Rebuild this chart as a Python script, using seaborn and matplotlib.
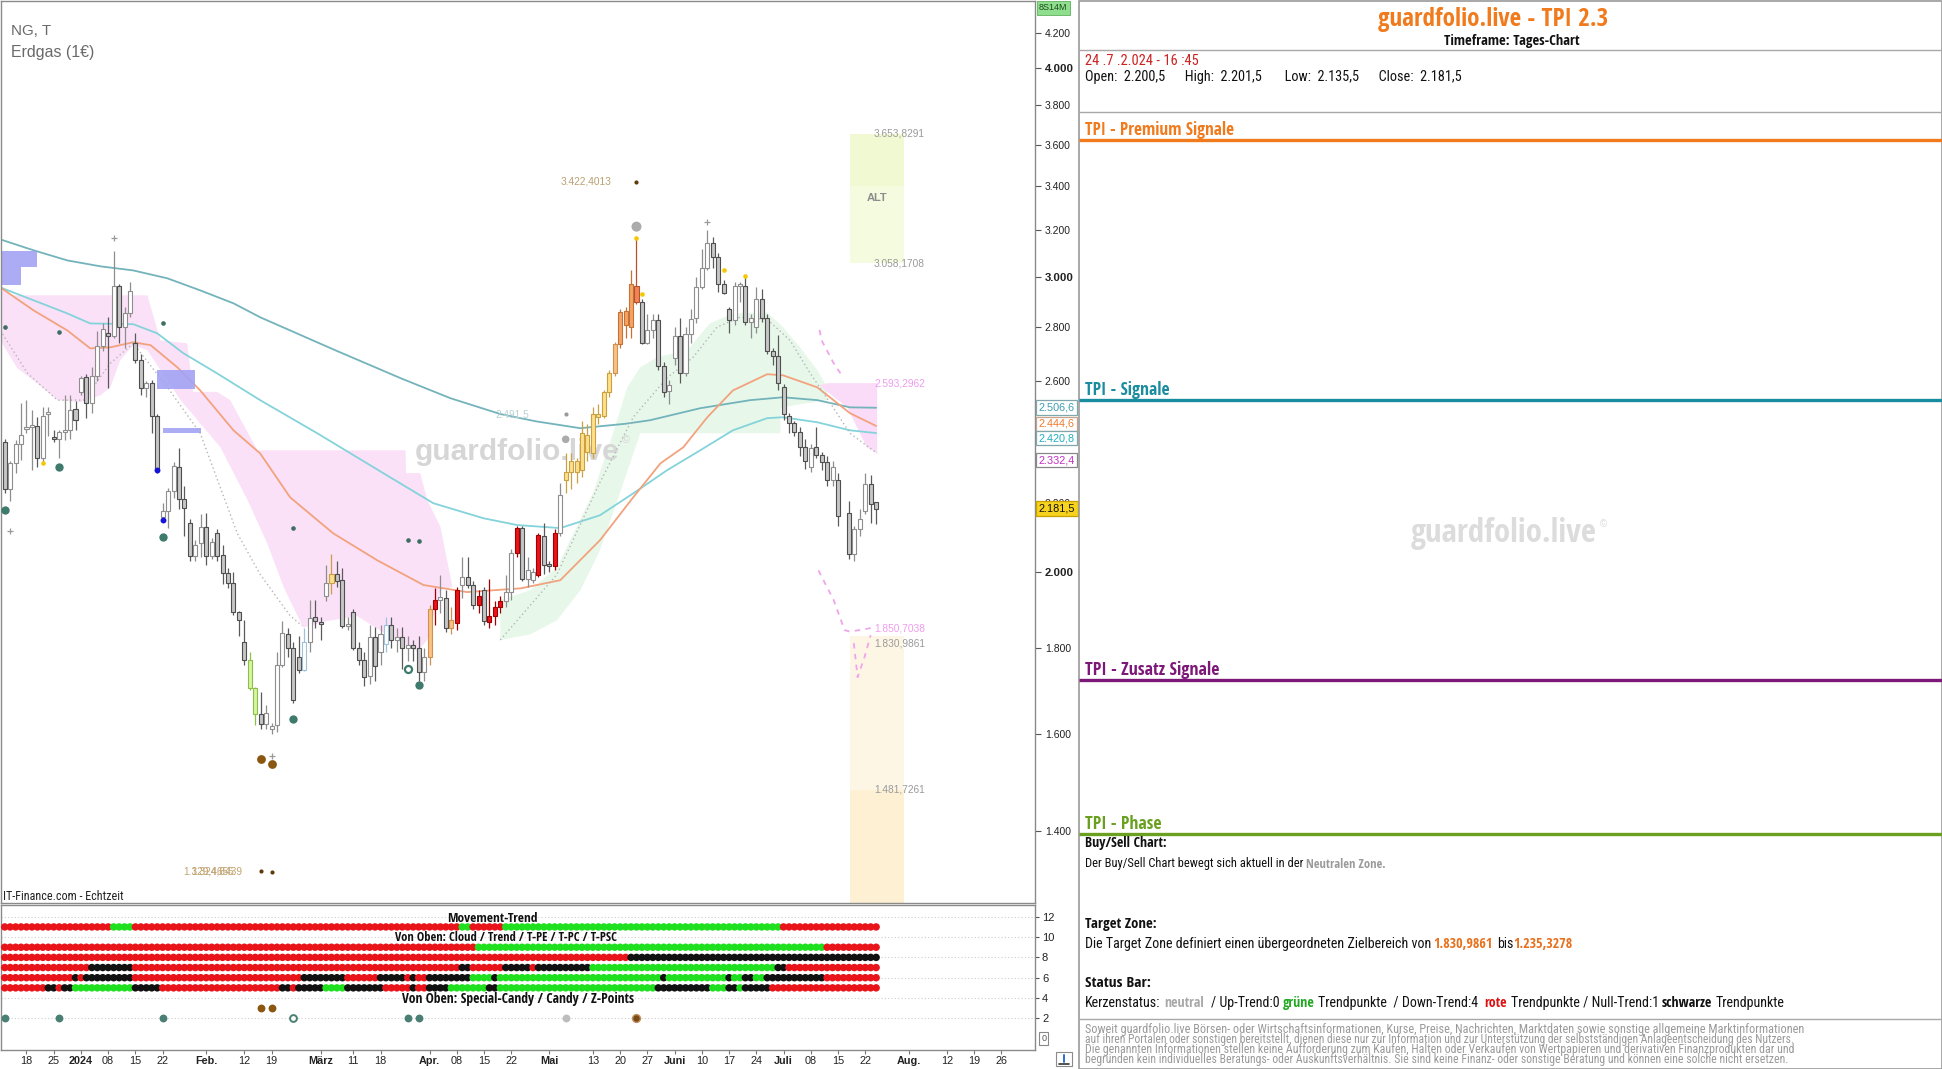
import numpy as np
import pandas as pd
import matplotlib
matplotlib.use("Agg")
import matplotlib.pyplot as plt
import seaborn as sns
from matplotlib.patches import Rectangle
from matplotlib import font_manager as fm
from matplotlib.ticker import FixedLocator, FixedFormatter, NullLocator
from matplotlib.transforms import blended_transform_factory, offset_copy

# ---------------------------------------------------------------- data
candle_idx = list(range(1, 162))
nan = float("nan")
opens = [2391, 2243, 2322, 2384, 2435, 2440, 2444, 2338, 2485, 2405,
         2400, 2425, 2430, 2503, 2563, 2614, 2523, 2617, 2730, 2775,
         2768, 2962, 2800, 2855, 2742, 2676, 2575, 2595, 2480, 2158,
         2175, 2235, 2310, 2210, 2140, 2045, 2080, 2128, 2045, 2110,
         2046, 1996, 1970, 1892, 1816, 1771, 1704, 1645, 1622, 1612,
         1620, 1760, 1835, 1800, 1780, 1748, 1816, 1880, 1866, 1935,
         1970, 1994, 1977, 1856, 1892, 1800, 1771, 1733, 1828, 1790,
         1810, 1860, 1822, 1828, 1800, 1808, 1800, 1742, 1780, 1900,
         1925, 1930, 1850, 1865, 1965, 1985, 1965, 1912, 1950, 1866,
         1882, 1905, 1920, 1945, 2052, 2125, 1980, 1977, 1990, 2100,
         2020, 2015, 2110, 2268, 2295, 2295, 2300, 2415, 2355, 2485,
         2480, 2560, 2630, 2735, 2810, 2800, 2965, 2900, 2740, 2790,
         2830, 2656, 2565, 2685, 2765, 2630, 2775, 2835, 2960, 3040,
         3145, 3083, 2970, 2870, 2830, 2965, 2965, 2820, 2800, 2910,
         2835, 2710, 2690, 2580, 2480, 2455, 2425, 2375, 2310, 2375,
         2350, 2325, 2270, 2268, nan, 2170, 2050, 2120, 2175, 2258,
         2200.5]
highs = [2400, 2330, 2397, 2522, 2533, 2500, 2475, 2510, 2510, 2430,
         2430, 2550, 2550, 2530, 2620, 2625, 2650, 2785, 2815, 2840,
         3110, 2970, 2880, 2980, 2780, 2700, 2600, 2605, 2485, 2200,
         2245, 2325, 2370, 2250, 2150, 2090, 2165, 2170, 2095, 2120,
         2075, 2010, 2000, 1895, 1871, 1790, 1706, 1695, 1665, 1625,
         1790, 1870, 1850, 1815, 1830, 1850, 1925, 1925, 1880, 2020,
         2050, 2030, 2010, 1880, 1900, 1815, 1790, 1860, 1855, 1860,
         1880, 1880, 1850, 1855, 1830, 1822, 1830, 1800, 1910, 1955,
         1990, 1950, 1905, 1960, 2040, 2040, 1975, 1950, 1960, 1980,
         1920, 1935, 1990, 2065, 2130, 2130, 2040, 2010, 2110, 2140,
         2030, 2120, 2260, 2355, 2355, 2340, 2460, 2450, 2510, 2520,
         2570, 2640, 2745, 2870, 2880, 3030, 3160, 2910, 2850, 2850,
         2850, 2670, 2605, 2800, 2835, 2800, 2870, 3000, 3120, 3200,
         3170, 3100, 2990, 2880, 2980, 2980, 3000, 2850, 2960, 2950,
         2850, 2720, 2770, 2590, 2490, 2460, 2440, 2400, 2385, 2440,
         2360, 2345, 2330, 2290, nan, 2205, 2130, 2180, 2290, 2285,
         2201.5]
lows = [2230, 2205, 2290, 2332, 2420, 2300, 2310, 2320, 2410, 2390,
        2340, 2397, 2400, 2430, 2550, 2470, 2490, 2600, 2710, 2575,
        2760, 2740, 2720, 2840, 2665, 2550, 2545, 2420, 2290, 2150,
        2125, 2215, 2180, 2100, 2030, 2030, 2040, 2020, 2035, 2030,
        1968, 1955, 1885, 1830, 1760, 1700, 1620, 1610, 1612, 1600,
        1605, 1755, 1780, 1670, 1740, 1745, 1790, 1850, 1820, 1920,
        1940, 1960, 1850, 1845, 1795, 1760, 1710, 1715, 1720, 1760,
        1790, 1800, 1790, 1750, 1770, 1770, 1720, 1720, 1760, 1860,
        1890, 1840, 1835, 1845, 1930, 1955, 1900, 1890, 1860, 1850,
        1860, 1890, 1905, 1925, 2040, 1975, 1960, 1970, 1985, 1995,
        2000, 2005, 2100, 2230, 2240, 2260, 2280, 2330, 2340, 2450,
        2470, 2545, 2620, 2720, 2760, 2760, 2890, 2735, 2735, 2760,
        2640, 2545, 2520, 2660, 2595, 2620, 2740, 2815, 2950, 3030,
        3040, 2940, 2930, 2780, 2810, 2900, 2810, 2760, 2780, 2820,
        2700, 2660, 2570, 2465, 2420, 2410, 2345, 2305, 2295, 2340,
        2300, 2250, 2250, 2130, nan, 2035, 2030, 2100, 2165, 2140,
        2135.5]
closes = [2243, 2322, 2384, 2416, 2440, 2445, 2338, 2480, 2490, 2400,
          2425, 2430, 2500, 2464, 2611, 2523, 2617, 2730, 2795, 2768,
          2962, 2800, 2855, 2945, 2676, 2575, 2592, 2480, 2300, 2175,
          2235, 2315, 2210, 2185, 2045, 2075, 2128, 2045, 2085, 2043,
          1996, 1970, 1892, 1871, 1771, 1704, 1645, 1622, 1648, 1615,
          1760, 1838, 1800, 1676, 1748, 1816, 1878, 1870, 1862, 1970,
          1994, 1975, 1856, 1860, 1800, 1771, 1730, 1828, 1757, 1835,
          1860, 1822, 1828, 1800, 1808, 1800, 1742, 1780, 1900, 1925,
          1930, 1850, 1871, 1950, 1985, 1965, 1911, 1935, 1868, 1882,
          1905, 1920, 1945, 2052, 2123, 1980, 2005, 1999, 2105, 2020,
          2015, 2110, 2222, 2295, 2330, 2330, 2420, 2360, 2485, 2475,
          2560, 2630, 2735, 2860, 2865, 2970, 2900, 2740, 2790, 2830,
          2656, 2560, 2585, 2765, 2630, 2775, 2832, 2960, 3040, 3145,
          3083, 2970, 2935, 2830, 2965, 2968, 2820, 2835, 2910, 2835,
          2710, 2690, 2595, 2485, 2455, 2425, 2375, 2330, 2370, 2350,
          2325, 2270, 2310, 2160, nan, 2050, 2120, 2150, 2258, 2195,
          2181.5]

red_candles = [80, 84, 88, 90, 91, 92, 95, 99, 102]
yellow_candles = [61, 104, 105, 106, 107, 108, 109, 110, 111, 112]
light_orange_candles = [79, 83, 113]
orange_candles = [114, 115, 116]
orange_red_candles = [117]
lime_candles = [46, 47]
light_blue_candles = [56, 71]

# moving averages (read at selected bars)
ma_long_idx = [0.2, 6.3, 12.5, 18.6, 24.6, 30.9, 36.9, 43, 47.9, 61.7, 73.9, 82.8, 92, 98.6, 106.7,
               115, 119.5, 128.7, 137.9, 143.9, 150.2, 156.2, 161]
ma_long_val = [3160, 3113, 3070, 3045, 3028, 2995, 2946, 2894, 2839, 2713, 2609, 2540, 2485, 2460, 2437,
               2452, 2464, 2505, 2533, 2543, 2533, 2508, 2506.6]
ma_mid_idx = [0.2, 6.3, 12.5, 16.7, 24.6, 29, 33.8, 40, 47.9, 58.4, 70.5, 79.7, 88.9, 95.1, 103,
              110.3, 116.4, 122.6, 128.7, 134.7, 141, 143.9, 150.2, 156.2, 161]
ma_mid_val = [2958, 2906, 2854, 2815, 2812, 2777, 2702, 2628, 2533, 2420, 2291, 2198, 2153, 2133, 2124,
              2162, 2228, 2300, 2364, 2430, 2471, 2474, 2457, 2430, 2420.8]
ma_short_idx = [0.2, 6.3, 12.5, 16.7, 20.4, 24.6, 27.8, 32.7, 36.9, 43, 47.9, 53.4, 61.3, 69.4, 77.9,
                85.9, 95.7, 103, 110.3, 116.4, 121.4, 125.6, 130, 134.7, 141, 143.9, 150.2, 156.2, 161]
ma_short_val = [2958, 2866, 2788, 2720, 2724, 2743, 2732, 2650, 2567, 2430, 2354, 2216, 2109, 2032, 1964,
                1945, 1955, 1977, 2089, 2216, 2322, 2374, 2474, 2567, 2625, 2621, 2578, 2488, 2444.6]

# clouds (upper edge points, lower edge points)
pink_up_idx = [0.2, 2, 27.2, 29.6, 34.5, 35.6, 40, 42.4, 47.4, 74.6, 74.7, 77.3, 78.6, 81, 83.2]
pink_up_val = [2958, 2926, 2926, 2750, 2739, 2562, 2562, 2533, 2364, 2364, 2291, 2291, 2207, 2128, 1959]
pink_lo_idx = [0.2, 3.3, 6.3, 10.7, 14.9, 18.6, 20.4, 22.2, 24.6, 27.2, 29.6, 33.3, 40.6, 45.6, 49.2,
               52.2, 55.8, 60.2, 65.7, 70.5, 76.8, 78.6, 81, 83.2]
pink_lo_val = [2750, 2647, 2603, 2533, 2526, 2550, 2578, 2676, 2732, 2713, 2640, 2533, 2374, 2207, 2080,
               1959, 1852, 1869, 1882, 1840, 1792, 1821, 1950, 1959]
green_up_idx = [92, 97.5, 102.4, 109, 112.7, 115.3, 117.7, 120.8, 126.3, 130.5, 134.7, 141, 143.9, 147, 150.2, 152]
green_up_val = [1924, 1950, 2012, 2228, 2420, 2578, 2650, 2687, 2713, 2815, 2854, 2858, 2801, 2724, 2640, 2578]
green_lo_idx = [92, 97.5, 102.4, 106.7, 110.3, 113.5, 117.7, 143.4, 143.5, 152]
green_lo_val = [1821, 1835, 1871, 1950, 2060, 2207, 2420, 2420, 2508, 2533]
pink2_up_idx = [150.5, 152.2, 161.2]
pink2_up_val = [2585, 2593, 2593]
pink2_lo_idx = [150.5, 152.2, 155.7, 159.3, 161.2]
pink2_lo_val = [2585, 2560, 2508, 2374, 2354]

# dotted trailing lines
dot1_idx = [0.2, 5.2, 10.7, 15.5, 20.4, 24.6, 30.9, 36.9, 43.7, 47.9, 53.4, 55.6]
dot1_val = [2788, 2628, 2533, 2533, 2665, 2739, 2578, 2420, 2109, 1993, 1883, 1857]
dot2_idx = [92, 102.4, 110.3, 116.4, 122.6, 127.4, 131.8, 136, 141, 145.2, 148.9, 153.1, 156.2, 161.2]
dot2_val = [1821, 1993, 2262, 2474, 2612, 2687, 2801, 2839, 2831, 2750, 2628, 2508, 2420, 2354]
pinkdash_up_idx = [150.6, 151, 153.2, 154.7]
pinkdash_up_val = [2790, 2750, 2665, 2621]
pinkdash_lo_idx = [150.4, 153.2, 155.2, 156.2, 160]
pinkdash_lo_val = [2004, 1924, 1846, 1842, 1851]
pinkdash_dip_idx = [156.9, 157.6, 158.9, 160]
pinkdash_dip_val = [1813, 1730, 1780, 1833]

# lavender boxes: (start, end, low, high)
box_start = [0.2, 0.2, 29, 30]
box_end = [7, 4, 36, 37]
box_low = [3041, 2966, 2571, 2420]
box_high = [3108, 3044, 2639, 2437]

# target zones
zone_start, zone_end = 156.2, 166.1
alt_zone = [3058.1708, 3400, 3653.8291]
tgt_zone = [1235.3278, 1481.7261, 1830.9861]

# markers in price panel
teal_big_idx = [1, 11, 30, 54, 77]
teal_big_val = [2177, 2310, 2098, 1633, 1711]
teal_ring_idx = [75]
teal_ring_val = [1749]
teal_small_idx = [1, 11, 30, 54, 75, 77]
teal_small_val = [2801, 2782, 2817, 2124, 2089, 2086]
blue_idx = [29, 30]
blue_val = [2302, 2148]
yellow_idx = [8, 117, 118, 133, 137]
yellow_val = [2323, 3165, 2930, 3030, 3005]
grey_big_idx = [117, 104]
grey_big_val = [3216, 2400]
grey_small_idx = [104]
grey_small_val = [2485]
plus_idx = [21, 2, 130, 50]
plus_val = [3166, 2117, 3237, 1553]
brown_big_idx = [48, 50]
brown_big_val = [1546, 1535]
brown_small_idx = [48, 50, 117]
brown_small_val = [1325, 1323, 3422]

# indicator rows: run lengths of states per bar (1..161)
movement_runs = [('r', 20), ('g', 4), ('r', 60), ('g', 2), ('r', 6), ('g', 51), ('r', 18)]
cloud_runs = [('r', 87), ('g', 64), ('r', 10)]
trend_runs = [('r', 115), ('k', 46)]
tpe_runs = [('r', 16), ('k', 8), ('r', 60), ('k', 2), ('r', 6), ('k', 5), ('r', 1), ('k', 10),
            ('g', 34), ('k', 2), ('r', 17)]
tpc_runs = [('r', 13), ('k', 1), ('r', 1), ('k', 9), ('r', 31), ('k', 8), ('r', 6), ('k', 5), ('r', 1),
            ('k', 1), ('r', 2), ('k', 8), ('g', 4), ('k', 1), ('g', 30), ('k', 1), ('g', 11), ('k', 1),
            ('g', 2), ('k', 2), ('g', 2), ('k', 11), ('r', 10)]
tpsc_runs = [('r', 8), ('k', 2), ('r', 1), ('k', 2), ('g', 11), ('k', 5), ('r', 22), ('k', 2), ('r', 1),
             ('k', 5), ('g', 4), ('k', 7), ('r', 5), ('k', 1), ('r', 2), ('k', 4), ('g', 7), ('k', 2),
             ('g', 29), ('k', 10), ('g', 3), ('k', 2), ('g', 1), ('k', 5), ('r', 20)]
ind_teal_idx = [1, 11, 30, 75, 77]
ind_ring_idx = [54]
ind_grey_idx = [104]
ind_darkbrown_idx = [117]
ind_brown_idx = [48, 50]

price_ticks = [1400, 1600, 1800, 2000, 2200, 2400, 2600, 2800, 3000, 3200, 3400, 3600, 3800, 4000, 4200]
tick_dates = ['2023-12-18', '2023-12-25', '2024-01-01', '2024-01-08', '2024-01-15', '2024-01-22',
              '2024-02-01', '2024-02-12', '2024-02-19', '2024-03-01', '2024-03-11', '2024-03-18',
              '2024-04-01', '2024-04-08', '2024-04-15', '2024-04-22', '2024-05-01', '2024-05-13',
              '2024-05-20', '2024-05-27', '2024-06-03', '2024-06-10', '2024-06-17', '2024-06-24',
              '2024-07-01', '2024-07-08', '2024-07-15', '2024-07-22', '2024-08-01', '2024-08-12',
              '2024-08-19', '2024-08-26']
tick_labels = ['18', '25', '2024', '08', '15', '22', 'Feb.', '12', '19', 'März', '11', '18', 'Apr.', '08',
               '15', '22', 'Mai', '13', '20', '27', 'Juni', '10', '17', '24', 'Juli', '08', '15', '22',
               'Aug.', '12', '19', '26']
bold_labels = ['2024', 'Feb.', 'März', 'Apr.', 'Mai', 'Juni', 'Juli', 'Aug.']

# ---------------------------------------------------------------- style
sns.set_theme(style="white")
plt.rcParams['font.family'] = ['Liberation Sans', 'DejaVu Sans']
REG = ['Liberation Sans', 'DejaVu Sans']


def _is_bold(w):
    if isinstance(w, (int, float)):
        return w >= 600
    return str(w).lower() in ('bold', 'semibold', 'demibold', 'heavy', 'extra bold', 'black')


def _is_cond(f):
    st = f.stretch
    if isinstance(st, (int, float)):
        if st < 500:
            return True
    elif str(st).lower() in ('condensed', 'semi-condensed', 'extra-condensed', 'ultra-condensed'):
        return True
    return ('Narrow' in f.name) or ('Condensed' in f.name)


def find_condensed(bold):
    best = None
    for f in fm.fontManager.ttflist:
        nm = f.name
        if any(b in nm for b in ('Mono', 'Serif', 'CJK', 'Math')):
            continue
        if not _is_cond(f) or _is_bold(f.weight) != bold or f.style != 'normal':
            continue
        score = 0
        if 'Liberation' in nm:
            score += 5
        if 'Roboto' in nm or 'Open Sans' in nm or 'Noto Sans' in nm:
            score += 3
        if 'DejaVu' in nm:
            score += 2
        if best is None or score > best[0]:
            best = (score, f.fname)
    return best[1] if best else None


_cn, _cb = find_condensed(False), find_condensed(True)
if _cn and _cb:
    NARROW = {'normal': fm.FontProperties(fname=_cn), 'bold': fm.FontProperties(fname=_cb)}
else:
    NARROW = {'normal': fm.FontProperties(family=REG, weight='normal'),
              'bold': fm.FontProperties(family=REG, weight='bold')}
REGF = {'normal': fm.FontProperties(family=REG, weight='normal'),
        'bold': fm.FontProperties(family=REG, weight='bold')}

W, H = 1942, 1069
fig = plt.figure(figsize=(W / 100, H / 100), dpi=100)
fig.patch.set_facecolor('white')


def px_rect(x0, y0, x1, y1):
    return [x0 / W, 1 - y1 / H, (x1 - x0) / W, (y1 - y0) / H]


ax = fig.add_axes(px_rect(0.5, 0.5, 1035, 903))
axi = fig.add_axes(px_rect(0.5, 905, 1035, 1050))
ov = fig.add_axes([0, 0, 1, 1])
ov.set_xlim(0, W)
ov.set_ylim(H, 0)
ov.axis('off')
ov.patch.set_alpha(0)
ov.set_zorder(5)

renderer = fig.canvas.get_renderer()


def _fp(fonts, weight, size):
    p = fonts[weight].copy()
    p.set_size(size)
    return p


def tw(s, size, weight, fonts):
    t = ov.text(0, 0, '|' + s + '|', fontproperties=_fp(fonts, weight, size))
    w1 = t.get_window_extent(renderer).width
    t.set_text('||')
    w0 = t.get_window_extent(renderer).width
    t.remove()
    return w1 - w0


def runs_text(x, y, runs, target=None, size=10, fonts=REGF, host=None, zorder=6, center=False):
    host = host or ov
    widths = [tw(s, size, wgt, fonts) for s, c, wgt in runs]
    total = sum(widths)
    k = (target / total) if target else 1.0
    fs = size * k
    cur = x - (total * k / 2 if center else 0)
    for (s, c, wgt), w in zip(runs, widths):
        lead = len(s) - len(s.lstrip(' '))
        off = tw(' ' * lead, size, wgt, fonts) * k if lead else 0
        if s.strip():
            host.text(cur + off, y, s.strip(), fontproperties=_fp(fonts, wgt, fs), color=c,
                      ha='left', va='center', transform=ov.transData, zorder=zorder)
        cur += w * k
    return fs


# ---------------------------------------------------------------- price panel
ax.set_facecolor('white')

ax.fill(pink_up_idx + pink_lo_idx[::-1], pink_up_val + pink_lo_val[::-1], color='#fbe1f8', lw=0, zorder=1)
ax.fill(green_up_idx + green_lo_idx[::-1], green_up_val + green_lo_val[::-1], color='#e7f8ea', lw=0, zorder=1)
ax.fill(pink2_up_idx + pink2_lo_idx[::-1], pink2_up_val + pink2_lo_val[::-1], color='#fbdcf8', lw=0, zorder=1)

ax.add_patch(Rectangle((zone_start, alt_zone[1]), zone_end - zone_start, alt_zone[2] - alt_zone[1],
                       fc='#f1f9d2', ec='none', zorder=0.5))
ax.add_patch(Rectangle((zone_start, alt_zone[0]), zone_end - zone_start, alt_zone[1] - alt_zone[0],
                       fc='#f5fbdf', ec='none', zorder=0.5))
ax.add_patch(Rectangle((zone_start, tgt_zone[1]), zone_end - zone_start, tgt_zone[2] - tgt_zone[1],
                       fc='#fef6e5', ec='none', zorder=0.5))
ax.add_patch(Rectangle((zone_start, tgt_zone[0]), zone_end - zone_start, tgt_zone[1] - tgt_zone[0],
                       fc='#fdf0d3', ec='none', zorder=0.5))

for s0, s1, lo, hi in zip(box_start, box_end, box_low, box_high):
    ax.add_patch(Rectangle((s0, lo), s1 - s0, hi - lo, fc='#a3a3f3', ec='none', alpha=0.9, zorder=2.5))

runs_text(415, 452, [('guardfolio.live', '#d6d6d6', 'bold')], target=204, size=20, host=ax, zorder=1.5)
ax.text(622, 440, '©', fontsize=8, color='#d6d6d6', transform=ov.transData, zorder=1.5, va='center')

sns.lineplot(x=ma_long_idx, y=ma_long_val, ax=ax, color='#73b3bb', lw=1.3, estimator=None, sort=False, zorder=2)
sns.lineplot(x=ma_mid_idx, y=ma_mid_val, ax=ax, color='#84d3da', lw=1.3, estimator=None, sort=False, zorder=2)
sns.lineplot(x=ma_short_idx, y=ma_short_val, ax=ax, color='#f2a27c', lw=1.3, estimator=None, sort=False, zorder=2)
ax.plot(dot1_idx, dot1_val, color='#b5b5b5', lw=1.0, ls=(0, (1, 2)), zorder=2)
ax.plot(dot2_idx, dot2_val, color='#b5b5b5', lw=1.0, ls=(0, (1, 2)), zorder=2)
for xs, ys in [(pinkdash_up_idx, pinkdash_up_val), (pinkdash_lo_idx, pinkdash_lo_val),
               (pinkdash_dip_idx, pinkdash_dip_val)]:
    ax.plot(xs, ys, color='#f0a4ec', lw=1.3, ls=(0, (3, 3)), zorder=2)

special = {}
for i in red_candles:
    special[i] = ('#e8141a', '#a00000')
for i in yellow_candles:
    special[i] = ('#fde08c', '#caa040')
for i in light_orange_candles:
    special[i] = ('#f9c285', '#d09050')
for i in orange_candles:
    special[i] = ('#f6a466', '#c47236')
for i in orange_red_candles:
    special[i] = ('#f08458', '#b8502c')
for i in lime_candles:
    special[i] = ('#d6f5a0', '#8cbf48')

bw = 0.74
for i, o, h, l, c in zip(candle_idx, opens, highs, lows, closes):
    if np.isnan(o):
        continue
    lo_b, hi_b = min(o, c), max(o, c)
    if hi_b / lo_b < 1.003:
        hi_b = lo_b * 1.003
    if i in special:
        fc, ec = special[i]
        wc = ec
    elif i in light_blue_candles:
        fc, ec, wc = 'white', '#9cc2dc', '#9cc2dc'
    elif c >= o:
        fc, ec, wc = 'white', '#8e8e8e', '#8e8e8e'
    else:
        fc, ec, wc = '#c6c6c6', '#4e4e4e', '#5a5a5a'
    ax.plot([i, i], [l, h], color=wc, lw=0.9, zorder=3, solid_capstyle='butt')
    ax.add_patch(Rectangle((i - bw / 2, lo_b), bw, hi_b - lo_b, fc=fc, ec=ec, lw=0.8, zorder=3.2))

ax.scatter(teal_big_idx, teal_big_val, s=36, color='#3e7b6c', zorder=4, lw=0)
ax.scatter(teal_ring_idx, teal_ring_val, s=26, facecolor='white', edgecolor='#3e7b6c', lw=1.6, zorder=4)
ax.scatter(teal_small_idx, teal_small_val, s=11, color='#3e6e62', zorder=4, lw=0)
ax.scatter(blue_idx, blue_val, s=18, color='#1515d8', zorder=4, lw=0)
ax.scatter(yellow_idx, yellow_val, s=11, color='#f4c800', zorder=4, lw=0)
ax.scatter(grey_big_idx, grey_big_val, s=[52, 30], color='#ababab', zorder=4, lw=0)
ax.scatter(grey_small_idx, grey_small_val, s=9, color='#9a9a9a', zorder=4, lw=0)
ax.scatter(plus_idx, plus_val, s=22, marker='+', color='#9a9a9a', zorder=4, lw=0.9)
ax.scatter(brown_big_idx, brown_big_val, s=40, color='#8a5610', zorder=4, lw=0)
ax.scatter(brown_small_idx, brown_small_val, s=9, color='#5e3a0c', zorder=4, lw=0)

lab = dict(fontsize=7.3, va='center', ha='left', zorder=5)
ax.text(103, 3422, '3.422,4013', color='#b9a072', **lab)
ax.text(160.6, 3653.8291, '3.653,8291', color='#9a9a9a', **lab)
ax.text(160.6, 3058.1708, '3.058,1708', color='#9a9a9a', **lab)
ax.text(159.3, 3345, 'ALT', color='#8c8c8c', fontsize=8, fontweight='bold', va='center', ha='left', zorder=5)
ax.text(160.6, 2593.2962, '2.593,2962', color='#ee9cee', **lab)
ax.text(160.6, 1850.7038, '1.850,7038', color='#ee9cee', **lab)
ax.text(160.6, 1812, '1.830,9861', color='#9a9a9a', **lab)
ax.text(160.6, 1481.7261, '1.481,7261', color='#9a9a9a', **lab)
ax.text(91.1, 2482, '2.491,5', color='#b9d2d2', **lab)
ax.text(33.8, 1325, '1.329,4655', color='#c2a472', **lab)
ax.text(35.3, 1325, '1.324,8439', color='#c2a472', **lab)

ax.set_yscale('log')
ax.set_xlim(0.228, 190.17)
ax.set_ylim(1268, 4390)
ax.yaxis.tick_right()
ax.yaxis.set_major_locator(FixedLocator(price_ticks))
ax.yaxis.set_major_formatter(FixedFormatter([f"{v:,}".replace(',', '.') for v in price_ticks]))
ax.yaxis.set_minor_locator(NullLocator())
ax.tick_params(axis='y', which='major', direction='out', length=4, width=0.8, color='#555',
               labelsize=7.5, pad=3, labelcolor='#222', right=True, left=False)
for t, v in zip(ax.get_yticklabels(), price_ticks):
    if v in (2000, 3000, 4000):
        t.set_fontweight('bold')
        t.set_fontsize(8.2)
ax.set_xticks([])
ax.set_xlabel('')
ax.set_ylabel('')
for sname, sp in ax.spines.items():
    sp.set_color('#8a8a8a')
    sp.set_linewidth(1.0)
    sp.set_visible(True)

trans = blended_transform_factory(ax.transAxes, ax.transData)
tags = [('2.506,6', 2506.6, '#3a9db0', 'white', '#7fa8ae', 0),
        ('2.444,6', 2444.6, '#f07a2c', 'white', '#caa18a', 2),
        ('2.420,8', 2420.8, '#1fb0c0', 'white', '#7fa8ae', -5),
        ('2.332,4', 2332.4, '#c52fc5', 'white', '#888888', 0),
        ('2.181,5', 2181.5, '#111111', '#f7d21e', '#c9a200', 0)]
for txt, val, tc, fc, ec, dy in tags:
    tr = offset_copy(trans, fig=fig, x=0, y=dy, units='dots')
    ax.text(1.0035, val, txt, transform=tr, fontsize=7.8, color=tc, ha='left', va='center',
            bbox=dict(boxstyle='square,pad=0.22', fc=fc, ec=ec, lw=0.9), clip_on=False, zorder=10)

# ---------------------------------------------------------------- indicator panel
recs = []
for lv, runs in [(11, movement_runs), (9, cloud_runs), (8, trend_runs), (7, tpe_runs),
                 (6, tpc_runs), (5, tpsc_runs)]:
    k = 1
    for state, n in runs:
        for _ in range(n):
            recs.append((k, lv, state))
            k += 1
ind = pd.DataFrame(recs, columns=['idx', 'level', 'state'])
for lv in [2, 4, 6, 8, 10, 12]:
    axi.axhline(lv, color='#cfcfcf', lw=0.8, ls=(0, (1, 2)), zorder=1)
sns.scatterplot(data=ind, x='idx', y='level', hue='state',
                palette={'r': '#e8141a', 'g': '#1fe01f', 'k': '#111111'},
                s=29, linewidth=0, legend=False, ax=axi, zorder=3)
axi.scatter(ind_teal_idx, [2] * len(ind_teal_idx), s=32, color='#4a7f73', lw=0, zorder=3)
axi.scatter(ind_ring_idx, [2] * len(ind_ring_idx), s=24, facecolor='white', edgecolor='#4a7f73', lw=1.4, zorder=3)
axi.scatter(ind_grey_idx, [2] * len(ind_grey_idx), s=32, color='#bdbdbd', lw=0, zorder=3)
axi.scatter(ind_darkbrown_idx, [2] * len(ind_darkbrown_idx), s=32, color='#7a4a14', edgecolor='#c09060', lw=1.0, zorder=3)
axi.scatter(ind_brown_idx, [3] * len(ind_brown_idx), s=32, color='#8a5610', lw=0, zorder=3)

axi.set_xlim(0.228, 190.17)
axi.set_ylim(-1.12, 13.16)
axi.set_xlabel('')
axi.set_ylabel('')
axi.yaxis.tick_right()
axi.set_yticks([2, 4, 6, 8, 10, 12])
axi.set_yticklabels(['2', '4', '6', '8', '10', '12'])
axi.tick_params(axis='y', direction='out', length=3, width=0.8, color='#555', labelsize=8, pad=2,
                labelcolor='#222', right=True, left=False)
axi.text(1.006, 0, '0', transform=blended_transform_factory(axi.transAxes, axi.transData),
         fontsize=6.5, color='#555', ha='left', va='center',
         bbox=dict(boxstyle='square,pad=0.25', fc='white', ec='#888', lw=0.8), clip_on=False)

days = pd.bdate_range('2023-12-11', '2024-09-30')
days = days[days != pd.Timestamp('2024-03-29')]
pos = {d: k for k, d in enumerate(days)}
tick_pos = [pos[pd.Timestamp(d)] for d in tick_dates]
axi.set_xticks(tick_pos)
axi.set_xticklabels(tick_labels)
axi.tick_params(axis='x', direction='out', length=3, width=0.8, color='#777', labelsize=7.8, pad=1.5,
                labelcolor='#222', bottom=True)
for t in axi.get_xticklabels():
    if t.get_text() in bold_labels:
        t.set_fontweight('bold')
for sname, sp in axi.spines.items():
    sp.set_color('#8a8a8a')
    sp.set_linewidth(1.0)
    sp.set_visible(True)

# ---------------------------------------------------------------- overlay texts (pixel coordinates)
runs_text(11, 31, [('NG, T', '#6a6a6a', 'normal')], target=40, size=11)
runs_text(11, 52, [('Erdgas (1€)', '#6a6a6a', 'normal')], target=83, size=11)
runs_text(3, 897, [('IT-Finance.com - Echtzeit', '#222222', 'normal')], target=121, size=8, fonts=NARROW)
ov.text(1039, 8, '8S14M', fontsize=6.5, color='#1d4d1d', ha='left', va='center',
        bbox=dict(boxstyle='square,pad=0.25', fc='#8ede8e', ec='#5fb05f', lw=0.6))
runs_text(492, 918, [('Movement-Trend', '#111', 'bold')], target=90, size=8, fonts=NARROW, center=True)
runs_text(506, 937.5, [('Von Oben: Cloud / Trend / T-PE / T-PC / T-PSC', '#111', 'bold')], target=222,
          size=8, fonts=NARROW, center=True)
runs_text(518, 999.5, [('Von Oben: Special-Candy / Candy / Z-Points', '#111', 'bold')], target=233,
          size=8, fonts=NARROW, center=True)
ov.add_patch(Rectangle((1056, 1052), 16, 14, fc='white', ec='#8a8a8a', lw=0.8))
ov.plot([1064, 1064], [1055, 1062], color='#2a6fd0', lw=1.4)
ov.plot([1059, 1069], [1064, 1064], color='#333', lw=1.2)

ov.add_patch(Rectangle((1078.5, 0.5), 1942 - 1079, 1068, fc='none', ec='#9a9a9a', lw=1.2))
for yy in [50, 112, 1019]:
    ov.plot([1079, 1942], [yy, yy], color='#a8a8a8', lw=1.0)
for yy, col in [(140, '#f07a1c'), (400, '#1a8ca0'), (680, '#7c1878'), (834, '#6aa020')]:
    ov.plot([1079, 1942], [yy, yy], color=col, lw=2.4, solid_capstyle='butt')

runs_text(1378, 20, [('guardfolio.live - TPI 2.3', '#f07a1c', 'bold')], target=231, size=16, fonts=NARROW)
runs_text(1444, 41, [('Timeframe: Tages-Chart', '#111111', 'bold')], target=135, size=8, fonts=NARROW)
runs_text(1085, 61, [('24 .7 .2.024 - 16 :45', '#cc2222', 'normal')], target=114, size=9, fonts=NARROW)
runs_text(1085, 77, [('Open:  2.200,5      High:  2.201,5       Low:  2.135,5      Close:  2.181,5',
                      '#111111', 'normal')], target=380, size=9, fonts=NARROW)
runs_text(1085, 130, [('TPI - Premium Signale', '#f07a1c', 'bold')], target=149, size=10, fonts=NARROW)
runs_text(1085, 390, [('TPI - Signale', '#1a8ca0', 'bold')], target=84, size=10, fonts=NARROW)
runs_text(1411, 533, [('guardfolio.live', '#dcdcdc', 'bold')], target=187, size=18, fonts=NARROW)
ov.text(1600, 524, '©', fontsize=7, color='#dcdcdc', va='center')
runs_text(1085, 670, [('TPI - Zusatz Signale', '#7c1878', 'bold')], target=134, size=10, fonts=NARROW)
runs_text(1085, 824, [('TPI - Phase', '#6aa020', 'bold')], target=76, size=10, fonts=NARROW)
runs_text(1085, 843, [('Buy/Sell Chart:', '#111111', 'bold')], target=82, size=9, fonts=NARROW)
runs_text(1085, 864, [('Der Buy/Sell Chart bewegt sich aktuell in der ', '#111111', 'normal'),
                      ('Neutralen Zone.', '#9a9a9a', 'bold')], target=301, size=9, fonts=NARROW)
runs_text(1085, 924, [('Target Zone:', '#111111', 'bold')], target=72, size=9, fonts=NARROW)
runs_text(1085, 944, [('Die Target Zone definiert einen übergeordneten Zielbereich von', '#111111', 'normal'),
                      ('1.830,9861', '#e8701c', 'bold'), (' bis', '#111111', 'normal'),
                      ('1.235,3278', '#e8701c', 'bold')], target=488, size=9, fonts=NARROW)
runs_text(1085, 983, [('Status Bar:', '#111111', 'bold')], target=66, size=9, fonts=NARROW)
runs_text(1085, 1003, [('Kerzenstatus: ', '#111111', 'normal'), ('neutral', '#a8a8a8', 'bold'),
                       ('  / Up-Trend:0 ', '#111111', 'normal'), ('grüne', '#22a822', 'bold'),
                       (' Trendpunkte  / Down-Trend:4  ', '#111111', 'normal'), ('rote', '#dd1111', 'bold'),
                       (' Trendpunkte / Null-Trend:1 ', '#111111', 'normal'), ('schwarze', '#111111', 'bold'),
                       (' Trendpunkte', '#111111', 'normal')], target=700, size=9, fonts=NARROW)
disclaimer = [
    ("Soweit guardfolio.live Börsen- oder Wirtschaftsinformationen, Kurse, Preise, Nachrichten, Marktdaten "
     "sowie sonstige allgemeine Marktinformationen", 727, 1029),
    ("auf ihren Portalen oder sonstigen bereitstellt, dienen diese nur zur Information und zur Unterstützung "
     "der selbstständigen Anlageentscheidung des Nutzers.", 722, 1039),
    ("Die genannten Informationen stellen keine Aufforderung zum Kaufen, Halten oder Verkaufen von "
     "Wertpapieren und derivativen Finanzprodukten dar und", 717, 1049),
    ("begründen kein individuelles Beratungs- oder Auskunftsverhältnis. Sie sind keine Finanz- oder "
     "sonstige Beratung und können eine solche nicht ersetzen.", 713, 1060),
]
for txt, wdt, yy in disclaimer:
    runs_text(1085, yy, [(txt, '#9a9a9a', 'normal')], target=wdt, size=7, fonts=NARROW)

fig.savefig('out.png', dpi=100, facecolor='white')
